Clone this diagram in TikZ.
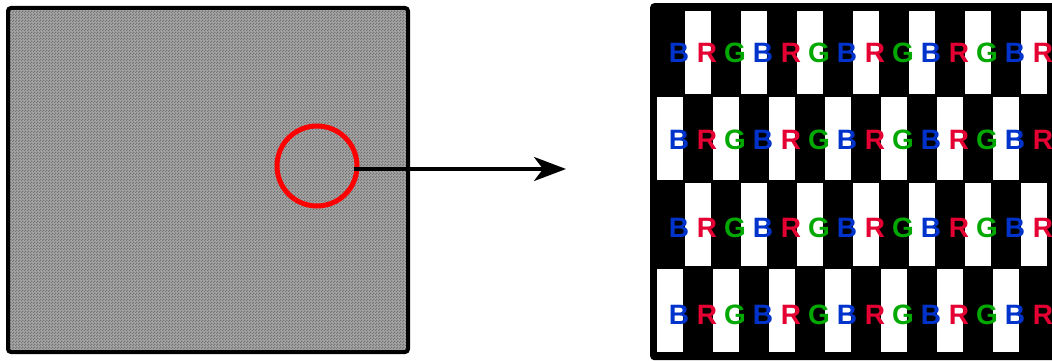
\documentclass[tikz,border=0pt]{standalone}
\usepackage{fontspec}
\setmainfont{Liberation Sans}
\usetikzlibrary{patterns,arrows.meta}

\definecolor{sensorBlue}{RGB}{0,51,204}
\definecolor{sensorRed}{RGB}{228,0,50}
\definecolor{sensorGreen}{RGB}{0,168,0}

% fine checker texture of the photo
\pgfdeclarepatternformonly{photoChecker}{\pgfpointorigin}{\pgfqpoint{3pt}{3pt}}{\pgfqpoint{3pt}{3pt}}{
    \pgfpathrectangle{\pgfpointorigin}{\pgfqpoint{1.5pt}{1.5pt}}
    \pgfpathrectangle{\pgfqpoint{1.5pt}{1.5pt}}{\pgfqpoint{1.5pt}{1.5pt}}
    \pgfusepath{fill}}

\begin{document}
\begin{tikzpicture}[yscale=-1, x=1pt, y=1pt,
    letter/.style={font=\fontsize{28}{28}\selectfont\bfseries, inner sep=0pt},
    stripe/.style={fill=white}]
    % Define the frame of the picture
    \clip (0,0) rectangle (1052,361);

    % Draw the photo and the zoomed area
    \node[draw, line width=4pt, rounded corners=3pt, preaction={fill=gray!70},
          pattern=photoChecker, pattern color=black!55, minimum width=400pt,
          minimum height=344pt, inner sep=0pt, anchor=north west] (photo) at (6,6) {};
    \node[draw=red, line width=5pt, circle, minimum size=80pt, inner sep=0pt] (zoom) at (317,166) {};

    % Draw the arrow
    \coordinate (arrowStart) at ([xshift=-6pt]zoom.east);
    \coordinate (arrowTip) at (566,169);
    \draw[line width=3.5pt, -{Stealth[length=32pt,width=24pt,inset=9pt]}] (arrowStart |- arrowTip) -- (arrowTip);

    % Draw the sensor
    \node[fill=black, rounded corners=4pt, minimum width=420pt, minimum height=357pt,
          inner sep=0pt, anchor=north west] (sensor) at (650,3) {};
    \foreach \row/\off in {0/685,1/657,2/685,3/657}
        \foreach \k in {0,...,6}
            \fill[stripe] ({\off+56*\k},{11+86*\row}) rectangle ++(26,83);

    % Draw the letters
    \foreach \row/\y in {0/53,1/140,2/228,3/315}
        \foreach \k in {0,...,13} {
            \pgfmathtruncatemacro{\c}{mod(\k,3)}
            \ifcase\c \def\ch{B}\def\col{sensorBlue}
            \or \def\ch{R}\def\col{sensorRed}
            \or \def\ch{G}\def\col{sensorGreen}\fi
            \node[letter, text=\col] (L\row-\k) at ({679+28*\k},\y) {\ch};
        }
\end{tikzpicture}
\end{document}
